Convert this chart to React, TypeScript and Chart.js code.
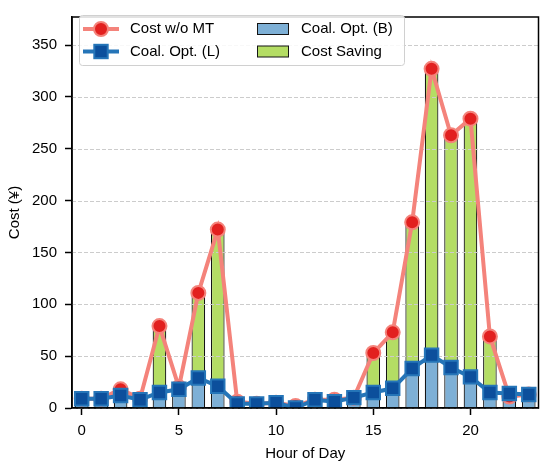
import React, { useEffect, useRef } from "react";
import { Chart, registerables } from "chart.js";

Chart.register(...registerables);

// values
const hours = [0, 1, 2, 3, 4, 5, 6, 7, 8, 9, 10, 11, 12, 13, 14, 15, 16, 17, 18, 19, 20, 21, 22, 23];
const costWithoutMT = [9, 9, 18, 9, 79, 20, 111, 172, 6, 4, 5, 2, 8, 8, 10, 53, 73, 179, 327, 263, 279, 69, 11, 13];
const coalOpt = [9, 9, 12, 8, 15, 18, 29, 21, 4, 4, 5, 0, 8, 6, 10, 15, 19, 38, 51, 39, 30, 15, 14, 13];
const xTickValues = [0, 5, 10, 15, 20];
const yTickValues = [0, 50, 100, 150, 200, 250, 300, 350];

const FONT = "'Liberation Sans', Arial, Helvetica, sans-serif";
const RED_LINE = "#f4837b";
const RED_DOT = "#e2201f";
const BLUE_LINE = "#2575b8";
const BLUE_DOT = "#0c4f9c";
const BAR_BLUE = "#7eb0d6";
const BAR_GREEN = "#b4dd64";
const BAR_EDGE = "#151515";

// grid goes between the bars and the lines, like matplotlib
const gridPlugin = {
  id: "midGrid",
  beforeDatasetDraw(chart: any, args: any) {
    if (args.index !== 0) return;
    const { ctx, chartArea } = chart;
    const y = chart.scales.y;
    ctx.save();
    ctx.strokeStyle = "#cccccc";
    ctx.lineWidth = 1;
    ctx.setLineDash([4, 2]);
    yTickValues.forEach((v) => {
      const py = Math.round(y.getPixelForValue(v)) + 0.5;
      ctx.beginPath();
      ctx.moveTo(chartArea.left, py);
      ctx.lineTo(chartArea.right, py);
      ctx.stroke();
    });
    ctx.restore();
  },
};

const frameAndLegend = {
  id: "frameAndLegend",
  afterDatasetsDraw(chart: any) {
    const { ctx, chartArea } = chart;
    ctx.save();
    ctx.strokeStyle = "#000";
    ctx.lineWidth = 1.5;
    ctx.strokeRect(chartArea.left, chartArea.top, chartArea.right - chartArea.left, chartArea.bottom - chartArea.top);
    ctx.restore();
  },
  afterDraw(chart: any) {
    const ctx: CanvasRenderingContext2D = chart.ctx;
    ctx.save();
    // legend box
    ctx.beginPath();
    if ((ctx as any).roundRect) (ctx as any).roundRect(79.5, 15.5, 325, 50, 3);
    else ctx.rect(79.5, 15.5, 325, 50);
    ctx.fillStyle = "rgba(255,255,255,0.85)";
    ctx.fill();
    ctx.strokeStyle = "#d0d0d0";
    ctx.lineWidth = 1;
    ctx.stroke();

    const row1 = 29;
    const row2 = 51.5;
    ctx.font = `15px ${FONT}`;
    ctx.textBaseline = "middle";
    ctx.fillStyle = "#000";

    // Cost w/o MT
    ctx.strokeStyle = RED_LINE;
    ctx.lineWidth = 4;
    ctx.beginPath();
    ctx.moveTo(83, row1);
    ctx.lineTo(119, row1);
    ctx.stroke();
    ctx.beginPath();
    ctx.arc(101, row1, 7, 0, Math.PI * 2);
    ctx.fillStyle = RED_DOT;
    ctx.fill();
    ctx.lineWidth = 2;
    ctx.strokeStyle = RED_LINE;
    ctx.stroke();

    // Coal. Opt. (L)
    ctx.strokeStyle = BLUE_LINE;
    ctx.lineWidth = 4;
    ctx.beginPath();
    ctx.moveTo(83, row2);
    ctx.lineTo(119, row2);
    ctx.stroke();
    ctx.fillStyle = BLUE_DOT;
    ctx.fillRect(94.3, row2 - 6.7, 13.4, 13.4);
    ctx.lineWidth = 2;
    ctx.strokeRect(94.3, row2 - 6.7, 13.4, 13.4);

    // bar patches
    ctx.lineWidth = 1;
    ctx.strokeStyle = BAR_EDGE;
    ctx.fillStyle = BAR_BLUE;
    ctx.fillRect(257.5, row1 - 5.5, 31, 11);
    ctx.strokeRect(257.5, row1 - 5.5, 31, 11);
    ctx.fillStyle = BAR_GREEN;
    ctx.fillRect(257.5, row2 - 5.5, 31, 11);
    ctx.strokeRect(257.5, row2 - 5.5, 31, 11);

    ctx.fillStyle = "#000";
    ctx.fillText("Cost w/o MT", 130, row1);
    ctx.fillText("Coal. Opt. (L)", 130, row2);
    ctx.fillText("Coal. Opt. (B)", 301, row1);
    ctx.fillText("Cost Saving", 301, row2);
    ctx.restore();
  },
};

const App: React.FC = () => {
  const canvasRef = useRef<HTMLCanvasElement | null>(null);
  const chartRef = useRef<Chart | null>(null);

  useEffect(() => {
    document.body.style.margin = "0";
    if (chartRef.current) chartRef.current.destroy();
    if (!canvasRef.current) return;

    const saving = costWithoutMT.map((c, i) => Math.max(0, c - coalOpt[i]));
    const pts = (arr: number[]) => hours.map((h, i) => ({ x: h, y: arr[i] }));
    const lineClip = { left: 12, right: 12, top: 12, bottom: 0 };

    chartRef.current = new Chart(canvasRef.current, {
      type: "bar",
      data: {
        datasets: [
          {
            type: "line",
            label: "Cost w/o MT",
            data: pts(costWithoutMT),
            stack: "cost",
            order: 1,
            borderColor: RED_LINE,
            borderWidth: 4,
            pointStyle: "circle",
            pointRadius: 7,
            pointBorderWidth: 2,
            pointBackgroundColor: RED_DOT,
            pointBorderColor: RED_LINE,
            tension: 0,
            clip: lineClip,
          } as any,
          {
            type: "line",
            label: "Coal. Opt. (L)",
            data: pts(coalOpt),
            stack: "coal",
            order: 0,
            borderColor: BLUE_LINE,
            borderWidth: 4,
            pointStyle: "rect",
            pointRadius: 9.5,
            pointBorderWidth: 2,
            pointBackgroundColor: BLUE_DOT,
            pointBorderColor: BLUE_LINE,
            tension: 0,
            clip: lineClip,
          } as any,
          {
            type: "bar",
            label: "Coal. Opt. (B)",
            data: pts(coalOpt),
            stack: "bars",
            order: 2,
            backgroundColor: BAR_BLUE,
            borderColor: BAR_EDGE,
            borderWidth: 1.2,
            barPercentage: 0.7,
            categoryPercentage: 1,
          },
          {
            type: "bar",
            label: "Cost Saving",
            data: pts(saving),
            stack: "bars",
            order: 3,
            backgroundColor: BAR_GREEN,
            borderColor: BAR_EDGE,
            borderWidth: 1.2,
            barPercentage: 0.7,
            categoryPercentage: 1,
          },
        ],
      },
      options: {
        animation: false,
        responsive: false,
        devicePixelRatio: 1,
        layout: { padding: { left: 0, right: 8.5, top: 8, bottom: 0 } },
        plugins: {
          legend: { display: false },
          tooltip: { enabled: false },
        },
        scales: {
          x: {
            type: "linear",
            min: -0.5,
            max: 23.5,
            offset: false,
            stacked: true,
            afterBuildTicks: (scale: any) => {
              scale.ticks = xTickValues.map((v) => ({ value: v }));
            },
            afterFit: (scale: any) => {
              scale.height = 61;
            },
            grid: {
              offset: false,
              drawOnChartArea: false,
              drawTicks: true,
              tickLength: 7,
              tickColor: "#000",
              tickWidth: 1.5,
            },
            border: { color: "#000", width: 1.5 },
            ticks: {
              color: "#000",
              padding: 7,
              font: { family: FONT, size: 15 },
              callback: (v: any) => String(v),
            },
            title: {
              display: true,
              text: "Hour of Day",
              color: "#000",
              padding: { top: 3, bottom: 6 },
              font: { family: FONT, size: 15 },
            },
          },
          y: {
            type: "linear",
            min: 0,
            max: 377,
            stacked: true,
            afterBuildTicks: (scale: any) => {
              scale.ticks = yTickValues.map((v) => ({ value: v }));
            },
            afterFit: (scale: any) => {
              scale.width = 72;
            },
            grid: {
              drawOnChartArea: false,
              drawTicks: true,
              tickLength: 7,
              tickColor: "#000",
              tickWidth: 1.5,
            },
            border: { color: "#000", width: 1.5 },
            ticks: {
              color: "#000",
              padding: 8,
              font: { family: FONT, size: 15 },
              callback: (v: any) => String(v),
            },
            title: {
              display: true,
              text: "Cost (¥)",
              color: "#000",
              padding: { top: 6, bottom: 0 },
              font: { family: FONT, size: 15 },
            },
          },
        },
      },
      plugins: [gridPlugin, frameAndLegend],
    });

    return () => {
      if (chartRef.current) {
        chartRef.current.destroy();
        chartRef.current = null;
      }
    };
  }, []);

  return (
    <div style={{ width: 550, height: 469 }}>
      <canvas ref={canvasRef} width={550} height={469} style={{ display: "block" }}></canvas>
    </div>
  );
};

export default App;
